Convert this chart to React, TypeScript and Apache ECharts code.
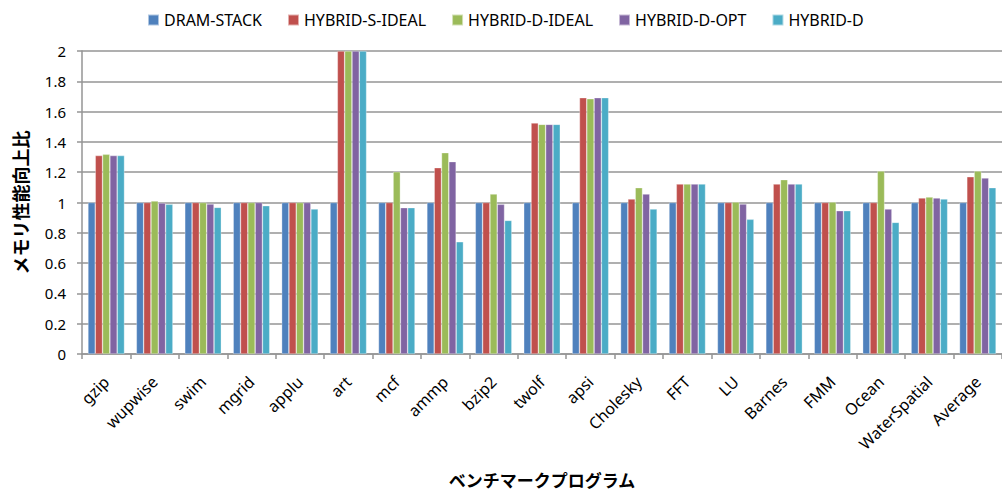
import React, { useEffect, useRef } from "react";
import * as echarts from "echarts";

const benchmarks = [
  "gzip", "wupwise", "swim", "mgrid", "applu", "art", "mcf", "ammp", "bzip2", "twolf",
  "apsi", "Cholesky", "FFT", "LU", "Barnes", "FMM", "Ocean", "WaterSpatial", "Average",
];

const seriesNames = ["DRAM-STACK", "HYBRID-S-IDEAL", "HYBRID-D-IDEAL", "HYBRID-D-OPT", "HYBRID-D"];
const seriesColors = ["#4F81BD", "#C0504D", "#9BBB59", "#8064A2", "#4BACC6"];

const dramStack = [1, 1, 1, 1, 1, 1, 1, 1, 1, 1, 1, 1, 1, 1, 1, 1, 1, 1, 1];
const hybridSIdeal = [1.31, 1.0, 1.0, 1.0, 1.0, 2.0, 1.0, 1.23, 1.0, 1.525, 1.692, 1.023, 1.122, 1.0, 1.122, 1.0, 1.0, 1.03, 1.17];
const hybridDIdeal = [1.318, 1.01, 1.0, 1.0, 1.0, 2.0, 1.203, 1.329, 1.056, 1.516, 1.685, 1.098, 1.122, 1.003, 1.151, 1.003, 1.208, 1.036, 1.208];
const hybridDOpt = [1.31, 0.997, 0.99, 1.0, 1.0, 2.0, 0.966, 1.27, 0.988, 1.516, 1.692, 1.056, 1.122, 0.99, 1.122, 0.946, 0.957, 1.03, 1.162];
const hybridD = [1.31, 0.988, 0.968, 0.979, 0.957, 2.0, 0.966, 0.741, 0.882, 1.516, 1.692, 0.957, 1.122, 0.889, 1.122, 0.946, 0.869, 1.023, 1.098];

const seriesValues = [dramStack, hybridSIdeal, hybridDIdeal, hybridDOpt, hybridD];

const yAxisTitle = "メモリ性能向上比";
const xAxisTitle = "ベンチマークプログラム";

const FONT = "'Noto Sans', 'Noto Sans CJK JP', sans-serif";
const GRID_GRAY = "#959595";

export default function App() {
  const ref = useRef<HTMLDivElement>(null);

  useEffect(() => {
    if (!ref.current) return;
    const chart = echarts.init(ref.current, undefined, { renderer: "svg" });
    chart.setOption({
      animation: false,
      backgroundColor: "#ffffff",
      textStyle: { fontFamily: FONT },
      legend: {
        left: 147,
        top: 12,
        padding: 0,
        itemWidth: 11,
        itemHeight: 11,
        itemGap: 25,
        icon: "rect",
        data: seriesNames,
        textStyle: { fontFamily: FONT, fontSize: 16, color: "#000" },
      },
      grid: { left: 82, right: -7, top: 51, bottom: 140, containLabel: false },
      xAxis: {
        type: "category",
        data: benchmarks,
        name: xAxisTitle,
        nameLocation: "middle",
        nameGap: 118,
        nameTextStyle: { fontFamily: FONT, fontSize: 17, fontWeight: "bold", color: "#000", verticalAlign: "top" },
        axisLine: { lineStyle: { color: GRID_GRAY, width: 1.5 } },
        axisTick: { show: true, alignWithLabel: false, length: 5, lineStyle: { color: GRID_GRAY, width: 1.5 } },
        axisLabel: { rotate: 45, margin: 25, interval: 0, fontSize: 16, color: "#000", fontFamily: FONT },
      },
      yAxis: {
        type: "value",
        min: 0,
        max: 2,
        interval: 0.2,
        name: yAxisTitle,
        nameLocation: "middle",
        nameGap: 52,
        nameTextStyle: { fontFamily: FONT, fontSize: 18, fontWeight: "bold", color: "#000" },
        axisLine: { show: true, lineStyle: { color: GRID_GRAY, width: 1.5 } },
        axisTick: { show: true, length: 5, lineStyle: { color: GRID_GRAY, width: 1.5 } },
        axisLabel: {
          margin: 16,
          fontSize: 15,
          color: "#000",
          fontFamily: FONT,
          formatter: (v: number) => String(Math.round(v * 10) / 10),
        },
        splitLine: { lineStyle: { color: GRID_GRAY, width: 1.5 } },
      },
      series: seriesNames.map((name, i) => ({
        name,
        type: "bar",
        data: seriesValues[i],
        barGap: "0%",
        barCategoryGap: "24.5%",
        itemStyle: {
          color: seriesColors[i],
          borderColor: "rgba(255,255,255,0.55)",
          borderWidth: 0.6,
        },
      })),
    });
    return () => chart.dispose();
  }, []);

  return (
    <div
      ref={ref}
      style={{ position: "absolute", left: 0, top: 0, width: 1002, height: 494 }}
    />
  );
}
